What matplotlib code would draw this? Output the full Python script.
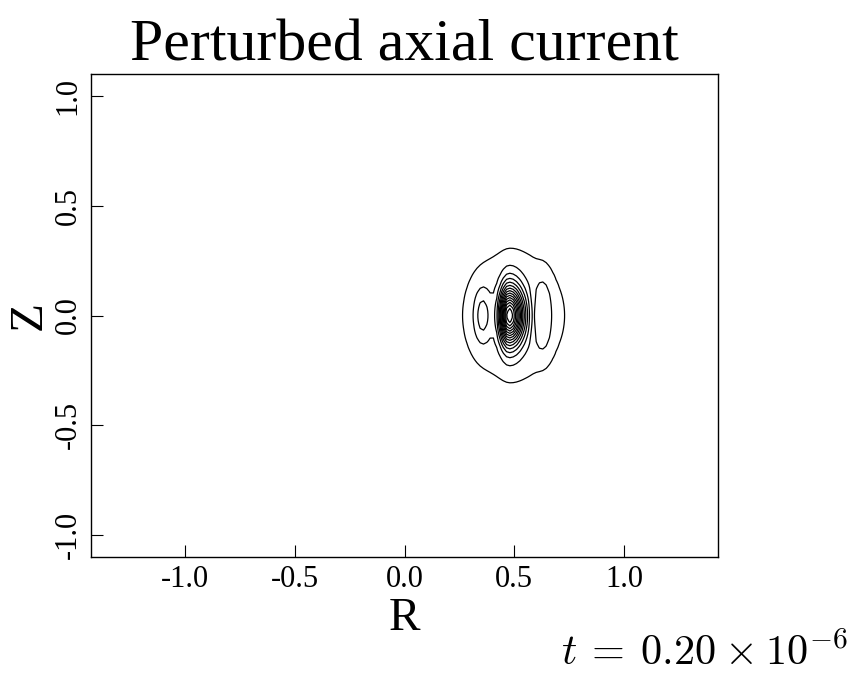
import numpy as np
import matplotlib
matplotlib.use("Agg")
import matplotlib.pyplot as plt

# field built from a few gaussian pieces
# (broad envelope, left lobe, right lobe, sharp peak, peak shoulder, trough)
AMP = [1.5, 2.2, 1.0, 12.0, 2.5, -1.0]
R0 = [0.49, 0.355, 0.632, 0.475, 0.48, 0.585]
SR_L = [0.28, 0.04, 0.05, 0.04, 0.04, 0.015]
SR_R = [0.30, 0.04, 0.05, 0.065, 0.06, 0.015]
SZ = [0.36, 0.12, 0.20, 0.12, 0.17, 0.17]
PW = [2, 1, 2, 1, 1, 2]
LEVELS = np.arange(1, 17, 1)

XTICKS = [-1.0, -0.5, 0.0, 0.5, 1.0]
YTICKS = [-1.0, -0.5, 0.0, 0.5, 1.0]

plt.rcParams["font.family"] = ["Liberation Serif", "DejaVu Serif"]
plt.rcParams["mathtext.fontset"] = "cm"

r = np.arange(-1.44, 1.44, 0.015)
z = np.arange(-1.12, 1.12, 0.015)
R, Z = np.meshgrid(r, z)
F = np.zeros_like(R)
for a, r0, sl, sr, sz, p in zip(AMP, R0, SR_L, SR_R, SZ, PW):
    s = np.where(R < r0, sl, sr)
    q = ((R - r0) / s) ** 2 + (Z / sz) ** 2
    F += a * np.exp(-q ** p)

fig = plt.figure(figsize=(8.58, 6.76), dpi=100)
ax = fig.add_axes([91 / 858, 1 - 557 / 676, (718 - 91) / 858, (557 - 74) / 676])
ax.contour(R, Z, F, levels=LEVELS, colors="black", linewidths=0.9)
ax.set_xlim(-1.428, 1.428)
ax.set_ylim(-1.1, 1.1)
ax.set_xticks(XTICKS, [f"{v:.1f}" for v in XTICKS], fontsize=22)
ax.set_yticks(YTICKS, [f"{v:.1f}" for v in YTICKS], fontsize=22, rotation=90, va="center")
ax.tick_params(direction="in", length=8.6, width=0.8, top=False, right=False, pad=6)
for sp in ax.spines.values():
    sp.set_linewidth(1.0)
ax.set_xlabel("R", fontsize=34, labelpad=2)
ax.set_ylabel("Z", fontsize=34, labelpad=2)
ax.set_title("Perturbed axial current", fontsize=43, pad=6)
fig.text(848 / 858, 1 - 665 / 676, r"$t\:=\:0.20\:\times\:10^{-6}$", fontsize=30.5,
         ha="right", va="baseline")
fig.savefig("out.png", dpi=100)
